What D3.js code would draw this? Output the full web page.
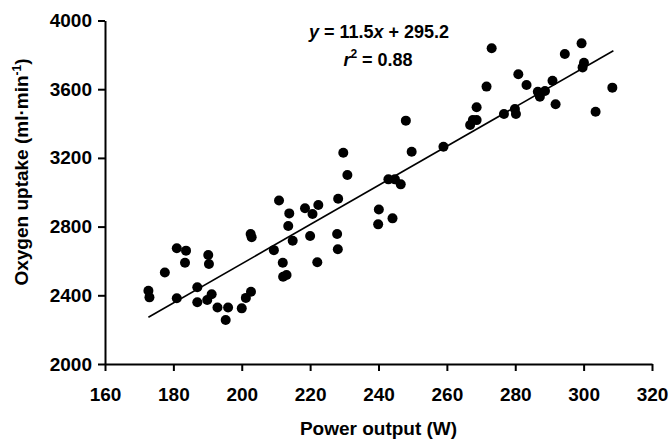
<!DOCTYPE html>
<html>
<head>
<meta charset="utf-8">
<script src="https://cdn.jsdelivr.net/npm/d3@7"></script>
<style>
  body { margin: 0; background: #fff; }
  text { font-family: "Liberation Sans", Arial, Helvetica, sans-serif; font-weight: bold; fill: #000; }
</style>
</head>
<body>
<div id="chart"></div>
<script>
// power output (W)
const powerW = [172.7, 173, 177.5, 181, 183.7, 183.4, 181, 187, 187, 190.2,
  190.4, 189.9, 191.2, 192.9, 196, 195.3, 200, 201.2, 202.7, 202.6,
  202.9, 209.4, 210.9, 212, 212.1, 213.1, 213.6, 213.9, 214.9, 218.5,
  220, 220.7, 222.4, 222.1, 228.2, 227.9, 228.1, 229.7, 230.9, 240.1,
  239.9, 244.1, 242.9, 244.8, 246.5, 248, 249.7, 259, 266.8, 267.6,
  268.7, 268.7, 271.6, 273.1, 276.7, 279.9, 280.2, 280.9, 283.3, 286.6,
  287.2, 288.7, 290.9, 291.8, 294.5, 299.4, 300.1, 299.7, 303.5, 308.4];
// oxygen uptake (ml/min)
const vo2 = [2427, 2388, 2533, 2674, 2660, 2589, 2383, 2447, 2360, 2635,
  2582, 2373, 2406, 2329, 2329, 2256, 2324, 2385, 2421, 2757,
  2738, 2663, 2952, 2589, 2508, 2518, 2803, 2877, 2718, 2907,
  2745, 2873, 2926, 2592, 2962, 2757, 2668, 3230, 3100, 2900,
  2813, 2848, 3075, 3075, 3046, 3417, 3236, 3265, 3392, 3421,
  3420, 3495, 3615, 3838, 3456, 3485, 3456, 3687, 3624, 3585,
  3556, 3590, 3649, 3512, 3805, 3867, 3754, 3727, 3469, 3609];

// fitted line end points as drawn
const fitX = [172.7, 308.7];
const fitY = [2272, 3824];

const xTicks = [160, 180, 200, 220, 240, 260, 280, 300, 320];
const yTicks = [2000, 2400, 2800, 3200, 3600, 4000];

const width = 672, height = 441;
const margin = { top: 20.5, right: 20, bottom: 77, left: 105 };

const svg = d3.select('#chart')
  .append('svg')
  .attr('width', width)
  .attr('height', height);

const x = d3.scaleLinear()
  .domain([160, 320])
  .range([margin.left, 652]);

const y = d3.scaleLinear()
  .domain([2000, 4000])
  .range([height - margin.bottom, margin.top]);

// axes
const xAxis = svg.append('g')
  .attr('transform', `translate(0, ${y(2000)})`)
  .call(d3.axisBottom(x).tickValues(xTicks).tickFormat(d3.format('d'))
    .tickSize(7).tickSizeOuter(0).tickPadding(17));

const yAxis = svg.append('g')
  .attr('transform', `translate(${x(160)}, 0)`)
  .call(d3.axisLeft(y).tickValues(yTicks).tickFormat(d3.format('d'))
    .tickSize(7).tickSizeOuter(0).tickPadding(6));

[xAxis, yAxis].forEach(g => {
  g.select('.domain').attr('stroke', '#000').attr('stroke-width', 2);
  g.selectAll('.tick line').attr('stroke', '#000').attr('stroke-width', 2);
  g.selectAll('.tick text')
    .attr('font-size', '19px')
    .attr('font-family', '"Liberation Sans", Arial, sans-serif')
    .attr('font-weight', 'bold')
    .attr('fill', '#000');
});

// regression line
svg.append('line')
  .attr('x1', x(fitX[0]))
  .attr('y1', y(fitY[0]))
  .attr('x2', x(fitX[1]))
  .attr('y2', y(fitY[1]))
  .attr('stroke', '#000')
  .attr('stroke-width', 1.6);

// points
svg.selectAll('.dot')
  .data(powerW.map((d, i) => [d, vo2[i]]))
  .enter()
  .append('circle')
  .attr('class', 'dot')
  .attr('cx', d => x(d[0]))
  .attr('cy', d => y(d[1]))
  .attr('r', 5)
  .attr('fill', '#000');

// equation
const eq = svg.append('text')
  .attr('x', 379)
  .attr('y', 38)
  .attr('text-anchor', 'middle')
  .attr('font-size', '18px');
eq.append('tspan').attr('font-style', 'italic').text('y');
eq.append('tspan').text(' = 11.5');
eq.append('tspan').attr('font-style', 'italic').text('x');
eq.append('tspan').text(' + 295.2');

const r2 = svg.append('text')
  .attr('x', 378)
  .attr('y', 66)
  .attr('text-anchor', 'middle')
  .attr('font-size', '18px');
r2.append('tspan').attr('font-style', 'italic').text('r');
r2.append('tspan').attr('dy', -8).attr('font-size', '12px').text('2');
r2.append('tspan').attr('dy', 8).text(' = 0.88');

// axis titles
svg.append('text')
  .attr('x', (x(160) + x(320)) / 2)
  .attr('y', 435)
  .attr('text-anchor', 'middle')
  .attr('font-size', '19px')
  .text('Power output (W)');

const yt = svg.append('text')
  .attr('transform', 'translate(28, 172) rotate(-90)')
  .attr('text-anchor', 'middle')
  .attr('font-size', '19px');
yt.append('tspan').text('Oxygen uptake (ml\u00b7min');
yt.append('tspan').attr('dy', -7).attr('font-size', '12px').text('-1');
yt.append('tspan').attr('dy', 7).text(')');
</script>
</body>
</html>
